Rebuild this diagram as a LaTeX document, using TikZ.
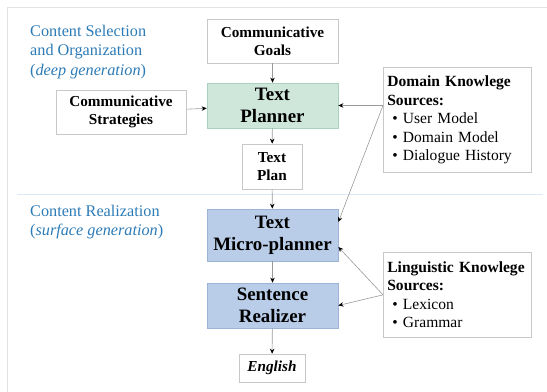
\documentclass[tikz,border=0pt]{standalone}
\usepackage{fontspec}
\setmainfont{Liberation Serif}
\usetikzlibrary{arrows.meta,calc}
\definecolor{lbl}{HTML}{2C7BB6}
\definecolor{bord}{HTML}{C8C8C8}
\definecolor{gfill}{HTML}{CFE7DB}
\definecolor{gbord}{HTML}{A9D3BF}
\definecolor{bfill}{HTML}{B9CDE9}
\definecolor{bbord}{HTML}{9DB4D6}
\definecolor{frame}{HTML}{E2E2E2}
\definecolor{divl}{HTML}{DCE8F4}
\tikzset{
  box/.style={draw=bord, line width=0.7bp, fill=white, inner sep=0pt, align=center,
    font=\fontsize{15.3}{18}\selectfont\bfseries},
  big/.style={box, font=\fontsize{19}{22}\selectfont\bfseries},
  green/.style={big, fill=gfill, draw=gbord},
  blue/.style={big, fill=bfill, draw=bbord},
  src/.style={draw=bord, line width=0.7bp, fill=white, inner xsep=4bp, inner ysep=0pt,
    align=left, anchor=north west, text width=140bp, minimum width=148bp,
    font=\fontsize{15.6}{18.6}\selectfont},
  arr/.style={draw=black!40, line width=0.6bp, -{Stealth[length=5bp,width=4.5bp,black]}},
  lab/.style={text=lbl, align=left, anchor=north west, inner sep=0pt,
    font=\fontsize{16.3}{19.5}\selectfont}
}
\begin{document}
\begin{tikzpicture}[x=1bp,y=-1bp]
\useasboundingbox (0,0) rectangle (547,391);
\draw[frame, line width=1bp] (7,400) -- (7,7) -- (560,7);
\draw[divl, line width=1bp] (17,194) -- (543,194);

\node[lab] (l1) at (30,25) {Content Selection\\and Organization\\(\textit{deep generation})};
\node[lab] (l2) at (30,205) {Content Realization\\(\textit{surface generation})};

\node[box, minimum width=131bp, minimum height=44bp] (goals) at (272.5,41) {Communicative\\Goals};
\node[green, minimum width=131bp, minimum height=45bp] (planner) at (272.5,105.5) {Text\\Planner};
\node[box, minimum width=130bp, minimum height=44bp] (strat) at (121,112) {Communicative\\Strategies};
\node[box, minimum width=60bp, minimum height=45bp] (plan) at (272,166.5) {Text\\Plan};
\node[blue, minimum width=131bp, minimum height=52bp] (micro) at (272.5,235) {Text\\Micro-planner};
\node[blue, minimum width=131bp, minimum height=45bp] (sent) at (272.5,305.5) {Sentence\\Realizer};
\node[box, minimum width=66bp, minimum height=28bp] (eng) at (272,368) {\textit{English}};

\node[src, minimum height=105bp] (dom) at (383,67) {\textbf{Domain Knowlege}\\\textbf{Sources:}\\\hspace{5bp}•~User Model\\\hspace{5bp}•~Domain Model\\\hspace{5bp}•~Dialogue History};
\node[src, minimum height=85bp] (ling) at (383,252) {\textbf{Linguistic Knowlege}\\\textbf{Sources:}\\\hspace{5bp}•~Lexicon\\\hspace{5bp}•~Grammar};

\coordinate (domout) at (planner.east -| dom.west);
\draw[arr] (goals) -- (planner);
\draw[arr] (strat) -- (planner);
\draw[arr] (planner) -- (plan);
\draw[arr] (plan) -- (micro);
\draw[arr] (micro) -- (sent);
\draw[arr] (sent) -- (eng);
\draw[arr] (domout) -- (planner.east);
\draw[arr] (domout) -- ($(micro.east)+(0,-13)$);
\draw[arr] (ling.west) -- ($(micro.east)+(0,12)$);
\draw[arr] (ling.west) -- (sent.east);
\end{tikzpicture}
\end{document}
